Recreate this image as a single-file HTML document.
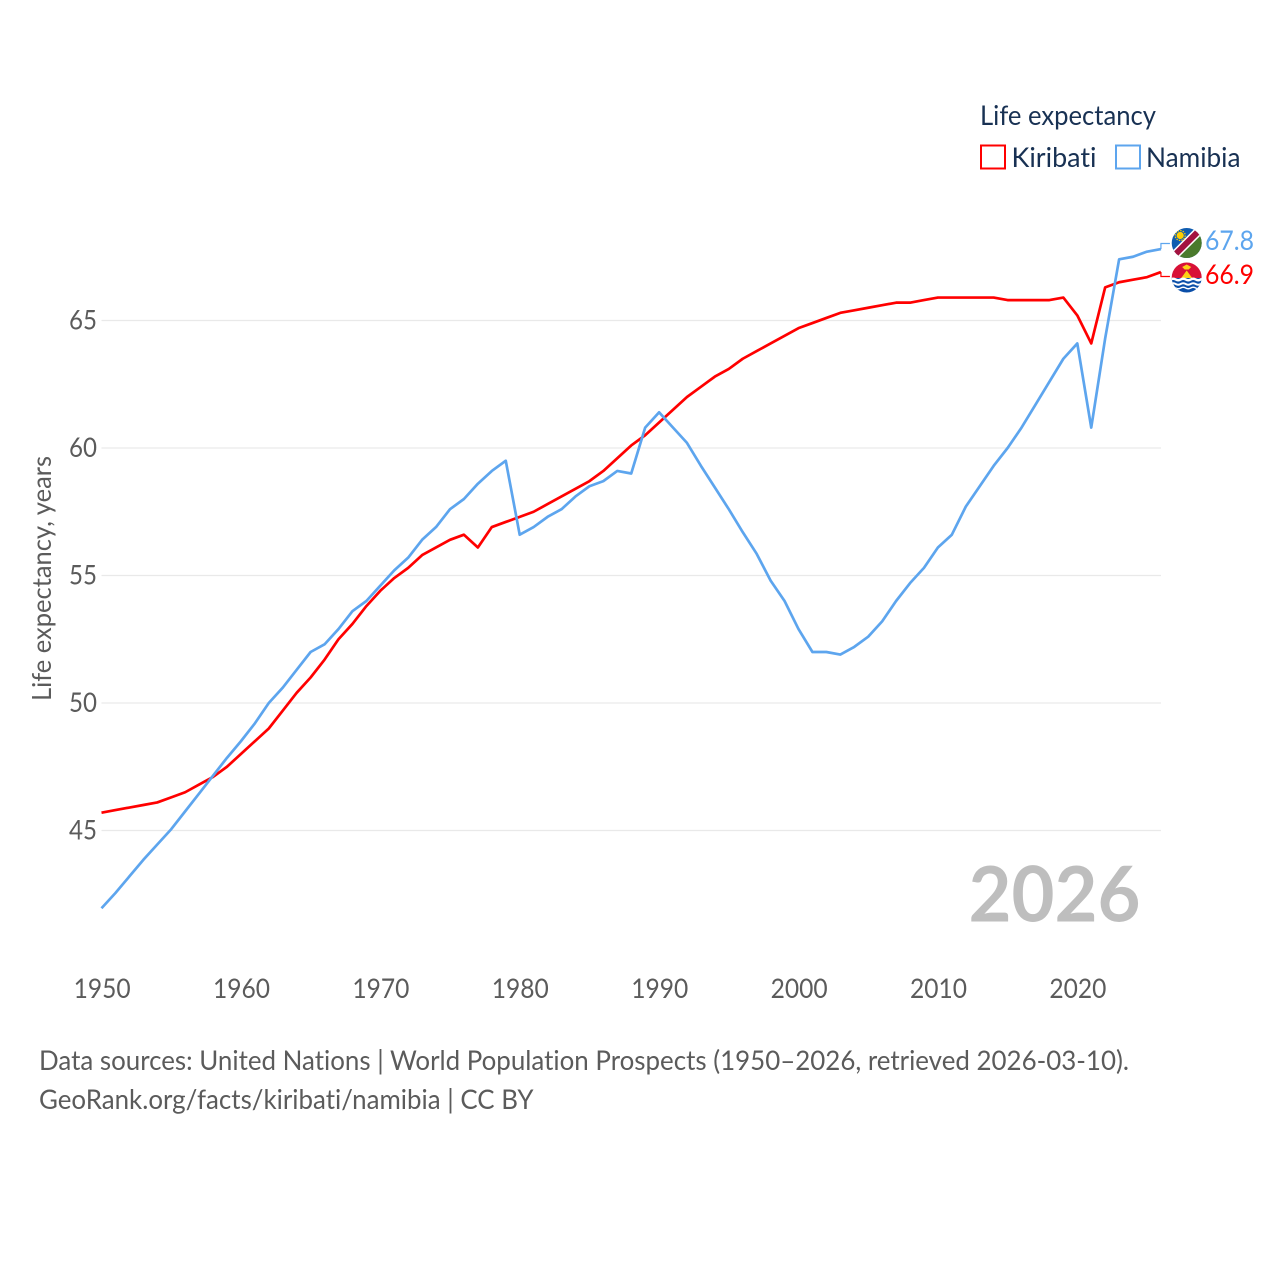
<!DOCTYPE html>
<html lang="en">
<head>
<meta charset="utf-8">
<title>Life expectancy: Kiribati and Namibia</title>
<style>
html,body{margin:0;padding:0;background:#fff;}
svg{display:block;}
text{font-family:"Lato","Carlito","Liberation Sans",sans-serif;font-variant-ligatures:none;}
</style>
</head>
<body>
<svg id="chart" width="1280" height="1280" viewBox="0 0 1280 1280" xmlns="http://www.w3.org/2000/svg">
  <defs>
    <clipPath id="clip-na"><circle cx="1186.7" cy="243" r="15"/></clipPath>
    <clipPath id="clip-ki"><circle cx="1186.7" cy="277.5" r="15"/></clipPath>
  </defs>
  <rect x="0" y="0" width="1280" height="1280" fill="#fff"/>
  <g id="grid"></g>
  <g id="yticks"></g>
  <g id="xticks"></g>
  <text transform="translate(51,578.5) rotate(-90)" text-anchor="middle" font-size="26" fill="#5b5b5b" textLength="245" lengthAdjust="spacingAndGlyphs">Life expectancy, years</text>
  <g id="series"></g>

  <g>
    <text x="980" y="125" font-size="27" fill="#183153" textLength="176" lengthAdjust="spacingAndGlyphs">Life expectancy</text>
    <g>
      <rect x="981" y="145.5" width="24" height="23" fill="#fff" stroke="#ff0000" stroke-width="2"/>
      <text x="1011.5" y="167" font-size="27" fill="#183153" textLength="85" lengthAdjust="spacingAndGlyphs">Kiribati</text>
    </g>
    <g>
      <rect x="1116" y="145.5" width="24" height="23" fill="#fff" stroke="#5da5ee" stroke-width="2"/>
      <text x="1146" y="167" font-size="27" fill="#183153" textLength="94.5" lengthAdjust="spacingAndGlyphs">Namibia</text>
    </g>
  </g>

  <g clip-path="url(#clip-na)">
    <g transform="translate(0.7,0)">
      <rect x="1170" y="227" width="32" height="32" fill="#0f5cb0"/>
      <polygon points="1170,259 1202,227 1202,259" fill="#4a7a2c"/>
      <line x1="1172" y1="257" x2="1200" y2="229" stroke="#ffffff" stroke-width="9"/>
      <line x1="1172" y1="257" x2="1200" y2="229" stroke="#a3123f" stroke-width="6"/>
      <circle cx="1179.5" cy="235.5" r="3.6" fill="#ffce00"/>
      <circle cx="1179.5" cy="235.5" r="5" fill="none" stroke="#ffce00" stroke-width="1.3" stroke-dasharray="1.4 1.2"/>
    </g>
  </g>
  <g clip-path="url(#clip-ki)">
    <g transform="translate(0.7,0)">
      <rect x="1170" y="262" width="32" height="16" fill="#d81137"/>
      <rect x="1170" y="278" width="32" height="15" fill="#0a4ea8"/>
      <polygon points="1180.5,278 1186,270.5 1191.5,278" fill="#fcd116"/>
      <polygon points="1181.5,267 1186,264.5 1190.5,267 1188,269.5 1184,269.5" fill="#fcd116"/>
      <path d="M1170 279.5q2.5 -1.5 5 0t5 0t5 0t5 0t5 0t5 0t5 0" fill="none" stroke="#fff" stroke-width="2.4"/>
      <path d="M1170 284q2.5 -1.5 5 0t5 0t5 0t5 0t5 0t5 0t5 0" fill="none" stroke="#fff" stroke-width="2"/>
      <path d="M1170 288q2.5 -1.5 5 0t5 0t5 0t5 0t5 0t5 0t5 0" fill="none" stroke="#fff" stroke-width="1.4"/>
    </g>
  </g>

  <text id="label-na" x="1205" y="250" font-size="27" fill="#5da5ee" textLength="49" lengthAdjust="spacingAndGlyphs"></text>
  <text id="label-ki" x="1205" y="284" font-size="27" fill="#ff0000" textLength="49" lengthAdjust="spacingAndGlyphs"></text>

  <text x="1140.5" y="921.5" text-anchor="end" font-size="77" font-weight="700" fill="#bebebe" textLength="172" lengthAdjust="spacingAndGlyphs">2026</text>

  <text x="39" y="1070" font-size="27" fill="#5b5b5b" textLength="1090" lengthAdjust="spacingAndGlyphs">Data sources: United Nations | World Population Prospects (1950–2026, retrieved 2026-03-10).</text>
  <a>
    <text x="39" y="1109" font-size="27" fill="#5b5b5b" textLength="494.5" lengthAdjust="spacingAndGlyphs">GeoRank.org/facts/kiribati/namibia | CC BY</text>
  </a>
</svg>
<script>
var startYear = 1950;
var yearTicks = [1950, 1960, 1970, 1980, 1990, 2000, 2010, 2020];
var valueTicks = [45, 50, 55, 60, 65];
var kiribatiValues = [
  45.7, 45.8, 45.9, 46.0, 46.1, 46.3, 46.5, 46.8, 47.1, 47.5,
  48.0, 48.5, 49.0, 49.7, 50.4, 51.0, 51.7, 52.5, 53.1, 53.8,
  54.4, 54.9, 55.3, 55.8, 56.1, 56.4, 56.6, 56.1, 56.9, 57.1,
  57.3, 57.5, 57.8, 58.1, 58.4, 58.7, 59.1, 59.6, 60.1, 60.5,
  61.0, 61.5, 62.0, 62.4, 62.8, 63.1, 63.5, 63.8, 64.1, 64.4,
  64.7, 64.9, 65.1, 65.3, 65.4, 65.5, 65.6, 65.7, 65.7, 65.8,
  65.9, 65.9, 65.9, 65.9, 65.9, 65.8, 65.8, 65.8, 65.8, 65.9,
  65.2, 64.1, 66.3, 66.5, 66.6, 66.7, 66.9
];
var namibiaValues = [
  41.95, 42.55, 43.2, 43.85, 44.45, 45.05, 45.75, 46.45, 47.15, 47.85,
  48.5, 49.2, 50.0, 50.6, 51.3, 52.0, 52.3, 52.9, 53.6, 54.0,
  54.6, 55.2, 55.7, 56.4, 56.9, 57.6, 58.0, 58.6, 59.1, 59.5,
  56.6, 56.9, 57.3, 57.6, 58.1, 58.5, 58.7, 59.1, 59.0, 60.8,
  61.4, 60.8, 60.2, 59.3, 58.45, 57.6, 56.7, 55.85, 54.8, 54.0,
  52.9, 52.0, 52.0, 51.9, 52.2, 52.6, 53.2, 54.0, 54.7, 55.3,
  56.1, 56.6, 57.7, 58.5, 59.3, 60.0, 60.8, 61.7, 62.6, 63.5,
  64.1, 60.8, 64.3, 67.4, 67.5, 67.7, 67.8
];
var kiribatiLabel = "66.9";
var namibiaLabel = "67.8";

var NS = "http://www.w3.org/2000/svg";
function xAxis(year) { return 101.5 + (year - 1950) * 13.94; }
function yAxis(value) { return 320.5 + (65 - value) * 25.5; }

var gridGroup = document.getElementById("grid");
var yTickGroup = document.getElementById("yticks");
var xTickGroup = document.getElementById("xticks");
var seriesGroup = document.getElementById("series");

valueTicks.forEach(function (v) {
  var line = document.createElementNS(NS, "line");
  
  
  line.setAttribute("x1", xAxis(1950));
  line.setAttribute("x2", xAxis(2026));
  line.setAttribute("y1", yAxis(v));
  line.setAttribute("y2", yAxis(v));
  line.setAttribute("stroke", "#e9e9e9");
  line.setAttribute("stroke-width", "1.3");
  gridGroup.appendChild(line);

  var t = document.createElementNS(NS, "text");
  
  
  t.setAttribute("x", 97);
  t.setAttribute("y", yAxis(v) + 9);
  t.setAttribute("text-anchor", "end");
  t.setAttribute("font-size", "27");
  t.setAttribute("fill", "#5b5b5b");
  t.setAttribute("textLength", "28");
  t.setAttribute("lengthAdjust", "spacingAndGlyphs");
  t.textContent = String(v);
  yTickGroup.appendChild(t);
});

yearTicks.forEach(function (yr) {
  var t = document.createElementNS(NS, "text");
  
  
  t.setAttribute("x", xAxis(yr) + 0.6);
  t.setAttribute("y", 998);
  t.setAttribute("text-anchor", "middle");
  t.setAttribute("font-size", "27");
  t.setAttribute("fill", "#5b5b5b");
  t.setAttribute("textLength", "57");
  t.setAttribute("lengthAdjust", "spacingAndGlyphs");
  t.textContent = String(yr);
  xTickGroup.appendChild(t);
});

function linePoints(values) {
  return values.map(function (v, i) {
    return xAxis(startYear + i).toFixed(2) + "," + yAxis(v).toFixed(2);
  }).join(" ");
}

var kiribatiLine = document.createElementNS(NS, "polyline");


kiribatiLine.setAttribute("points", linePoints(kiribatiValues));
kiribatiLine.setAttribute("fill", "none");
kiribatiLine.setAttribute("stroke", "#ff0000");
kiribatiLine.setAttribute("stroke-width", "2.7");
kiribatiLine.setAttribute("stroke-linejoin", "round");
seriesGroup.appendChild(kiribatiLine);

var namibiaLine = document.createElementNS(NS, "polyline");


namibiaLine.setAttribute("points", linePoints(namibiaValues));
namibiaLine.setAttribute("fill", "none");
namibiaLine.setAttribute("stroke", "#5da5ee");
namibiaLine.setAttribute("stroke-width", "2.7");
namibiaLine.setAttribute("stroke-linejoin", "round");
seriesGroup.appendChild(namibiaLine);

function connectorPoints(values, labelY) {
  var x = xAxis(startYear + values.length - 1);
  var y = yAxis(values[values.length - 1]);
  return x + "," + y + " " + x + "," + labelY + " " + (x + 9) + "," + labelY;
}

var kiribatiConnector = document.createElementNS(NS, "polyline");


kiribatiConnector.setAttribute("points", connectorPoints(kiribatiValues, 276.5));
kiribatiConnector.setAttribute("fill", "none");
kiribatiConnector.setAttribute("stroke", "#ff0000");
kiribatiConnector.setAttribute("stroke-width", "1.2");
seriesGroup.appendChild(kiribatiConnector);

var namibiaConnector = document.createElementNS(NS, "polyline");


namibiaConnector.setAttribute("points", connectorPoints(namibiaValues, 243.5));
namibiaConnector.setAttribute("fill", "none");
namibiaConnector.setAttribute("stroke", "#5da5ee");
namibiaConnector.setAttribute("stroke-width", "1.2");
seriesGroup.appendChild(namibiaConnector);

document.getElementById("label-na").textContent = namibiaLabel;
document.getElementById("label-ki").textContent = kiribatiLabel;
</script>
</body>
</html>
